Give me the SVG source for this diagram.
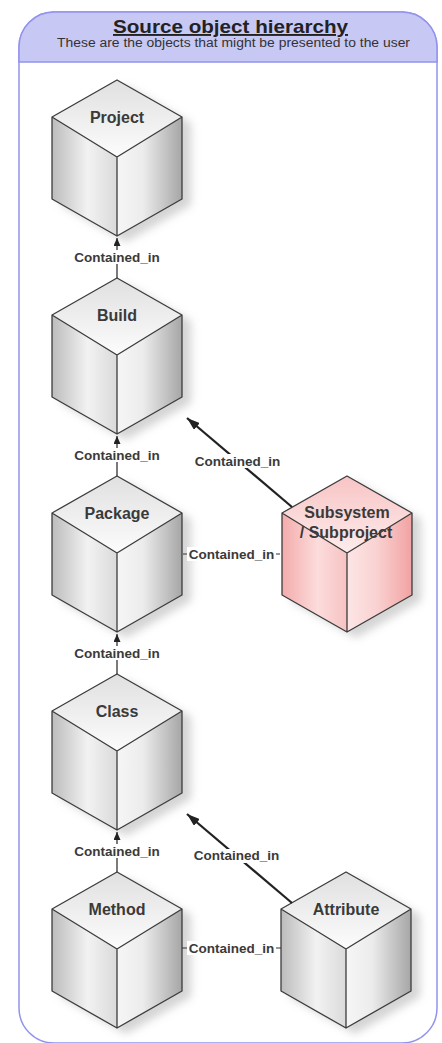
<svg xmlns="http://www.w3.org/2000/svg" xmlns:xlink="http://www.w3.org/1999/xlink" width="442" height="1043" viewBox="0 0 442 1043">
  <style>
    .title { font-family: "Liberation Sans", Arial, sans-serif; font-weight: bold; font-size: 19px; fill: #222; text-anchor: middle; text-decoration: underline; }
    .subtitle { font-family: "Liberation Sans", Arial, sans-serif; font-size: 12.5px; fill: #333; text-anchor: middle; }
    .node-label { font-family: "Liberation Sans", Arial, sans-serif; font-weight: bold; font-size: 16px; fill: #3a3a3a; text-anchor: middle; }
    .edge-label { font-family: "Liberation Sans", Arial, sans-serif; font-weight: bold; font-size: 13.5px; fill: #3a3a3a; text-anchor: middle; }
    .edge-bg { fill: #ffffff; }
    .edge-v { stroke: #333; stroke-width: 1.3; fill: none; }
    .edge-h { stroke: #333; stroke-width: 1.2; fill: none; }
    .edge-d { stroke: #222; stroke-width: 2.2; fill: none; }
    .cube-edge { fill: none; stroke: #3c3c3c; stroke-width: 1.3; stroke-linejoin: round; }
  </style>
  <defs>
    <linearGradient id="gTop" x1="0" y1="0" x2="0" y2="1">
      <stop offset="0" stop-color="#e0e0e0"/>
      <stop offset="1" stop-color="#fcfcfc"/>
    </linearGradient>
    <linearGradient id="gLeft" x1="0" y1="0" x2="1" y2="0">
      <stop offset="0" stop-color="#bcbcbc"/>
      <stop offset="0.55" stop-color="#f2f2f2"/>
      <stop offset="1" stop-color="#dadada"/>
    </linearGradient>
    <linearGradient id="gRight" x1="0" y1="0" x2="1" y2="0">
      <stop offset="0" stop-color="#f6f6f6"/>
      <stop offset="0.4" stop-color="#ececec"/>
      <stop offset="1" stop-color="#a6a6a6"/>
    </linearGradient>
    <linearGradient id="pTop" x1="0" y1="0" x2="0" y2="1">
      <stop offset="0" stop-color="#f8c4c4"/>
      <stop offset="1" stop-color="#fdecec"/>
    </linearGradient>
    <linearGradient id="pLeft" x1="0" y1="0" x2="1" y2="0">
      <stop offset="0" stop-color="#f4abab"/>
      <stop offset="0.55" stop-color="#fcdcdc"/>
      <stop offset="1" stop-color="#f7c2c2"/>
    </linearGradient>
    <linearGradient id="pRight" x1="0" y1="0" x2="1" y2="0">
      <stop offset="0" stop-color="#fde6e6"/>
      <stop offset="0.45" stop-color="#fad2d2"/>
      <stop offset="1" stop-color="#f2a2a2"/>
    </linearGradient>
    <filter id="soft" x="-30%" y="-30%" width="160%" height="160%">
      <feGaussianBlur stdDeviation="4"/>
    </filter>
    <marker id="arrowSmall" viewBox="0 0 8 7" refX="8" refY="3.5" markerWidth="8" markerHeight="7" markerUnits="userSpaceOnUse" orient="auto">
      <path d="M0,0 L8,3.5 L0,7 Z" fill="#222"/>
    </marker>
    <marker id="arrowLarge" viewBox="0 0 13 9" refX="13" refY="4.5" markerWidth="13" markerHeight="9" markerUnits="userSpaceOnUse" orient="auto">
      <path d="M0,0 L13,4.5 L0,9 Z" fill="#222"/>
    </marker>
    <!-- isometric cube, top vertex at the origin -->
    <g id="cubeGray">
      <path d="M0,0 L65,37 L65,119 L0,156 L-65,119 L-65,37 Z" transform="translate(9,6)" fill="#b8b8b8" opacity="0.6" filter="url(#soft)"/>
      <path d="M0,0 L65,37 L0,77 L-65,37 Z" fill="url(#gTop)"/>
      <path d="M-65,37 L0,77 L0,156 L-65,119 Z" fill="url(#gLeft)"/>
      <path d="M65,37 L0,77 L0,156 L65,119 Z" fill="url(#gRight)"/>
      <path class="cube-edge" d="M0,0 L65,37 L65,119 L0,156 L-65,119 L-65,37 Z M-65,37 L0,77 L65,37 M0,77 L0,156"/>
    </g>
    <g id="cubePink">
      <path d="M0,0 L65,37 L65,119 L0,156 L-65,119 L-65,37 Z" transform="translate(9,6)" fill="#b8b8b8" opacity="0.6" filter="url(#soft)"/>
      <path d="M0,0 L65,37 L0,77 L-65,37 Z" fill="url(#pTop)"/>
      <path d="M-65,37 L0,77 L0,156 L-65,119 Z" fill="url(#pLeft)"/>
      <path d="M65,37 L0,77 L0,156 L65,119 Z" fill="url(#pRight)"/>
      <path class="cube-edge" d="M0,0 L65,37 L65,119 L0,156 L-65,119 L-65,37 Z M-65,37 L0,77 L65,37 M0,77 L0,156"/>
    </g>
  </defs>

  <rect width="442" height="1043" fill="#ffffff"/>

  <!-- frame with header -->
  <g id="frame">
    <rect x="19" y="12" width="418" height="1031" rx="35" ry="35" fill="#ffffff" stroke="#9393ee" stroke-width="1.5"/>
    <path d="M19,62 V47 A35,35 0 0 1 54,12 H402 A35,35 0 0 1 437,47 V62 Z" fill="#c8c8f4" stroke="#9393ee" stroke-width="1.5"/>
    <text class="title" x="230.5" y="33" textLength="235" lengthAdjust="spacingAndGlyphs">Source object hierarchy</text>
    <text class="subtitle" x="233.5" y="46.5" textLength="353" lengthAdjust="spacingAndGlyphs">These are the objects that might be presented to the user</text>
  </g>

  <!-- nodes -->
  <g id="node-project" transform="translate(117,80)">
    <use xlink:href="#cubeGray"/>
    <text class="node-label" x="0" y="43">Project</text>
  </g>
  <g id="node-build" transform="translate(117,278)">
    <use xlink:href="#cubeGray"/>
    <text class="node-label" x="0" y="43">Build</text>
  </g>
  <g id="node-package" transform="translate(117,476)">
    <use xlink:href="#cubeGray"/>
    <text class="node-label" x="0" y="43">Package</text>
  </g>
  <g id="node-class" transform="translate(117,674)">
    <use xlink:href="#cubeGray"/>
    <text class="node-label" x="0" y="43">Class</text>
  </g>
  <g id="node-method" transform="translate(117,872)">
    <use xlink:href="#cubeGray"/>
    <text class="node-label" x="0" y="43">Method</text>
  </g>
  <g id="node-subsystem" transform="translate(347,476)">
    <use xlink:href="#cubePink"/>
    <text class="node-label" x="0" y="42">Subsystem</text>
    <text class="node-label" x="-1" y="62">/ Subproject</text>
  </g>
  <g id="node-attribute" transform="translate(346,872)">
    <use xlink:href="#cubeGray"/>
    <text class="node-label" x="0" y="43">Attribute</text>
  </g>

  <!-- connectors -->
  <g id="connectors">
    <line class="edge-v" x1="117" y1="278" x2="117" y2="238" marker-end="url(#arrowSmall)"/>
    <rect class="edge-bg" x="72" y="250" width="90" height="14"/>
    <text class="edge-label" x="117" y="261.5">Contained_in</text>

    <line class="edge-v" x1="117" y1="476" x2="117" y2="436" marker-end="url(#arrowSmall)"/>
    <rect class="edge-bg" x="72" y="448" width="90" height="14"/>
    <text class="edge-label" x="117" y="459.5">Contained_in</text>

    <line class="edge-v" x1="117" y1="674" x2="117" y2="634" marker-end="url(#arrowSmall)"/>
    <rect class="edge-bg" x="72" y="646" width="90" height="14"/>
    <text class="edge-label" x="117" y="657.5">Contained_in</text>

    <line class="edge-v" x1="117" y1="872" x2="117" y2="832" marker-end="url(#arrowSmall)"/>
    <rect class="edge-bg" x="72" y="844" width="90" height="14"/>
    <text class="edge-label" x="117" y="855.5">Contained_in</text>

    <line class="edge-d" x1="292" y1="507" x2="187" y2="418" marker-end="url(#arrowLarge)"/>
    <rect class="edge-bg" x="192" y="454" width="91" height="14"/>
    <text class="edge-label" x="237.5" y="465.5">Contained_in</text>

    <line class="edge-d" x1="292" y1="903" x2="187" y2="814" marker-end="url(#arrowLarge)"/>
    <rect class="edge-bg" x="191" y="849" width="91" height="14"/>
    <text class="edge-label" x="236.5" y="860">Contained_in</text>

    <line class="edge-h" x1="280" y1="554" x2="183" y2="554"/>
    <rect class="edge-bg" x="187" y="547" width="89" height="14"/>
    <text class="edge-label" x="231.5" y="558.5">Contained_in</text>

    <line class="edge-h" x1="281" y1="948" x2="182" y2="948"/>
    <rect class="edge-bg" x="187" y="941" width="89" height="14"/>
    <text class="edge-label" x="231.5" y="952.5">Contained_in</text>
  </g>
</svg>
